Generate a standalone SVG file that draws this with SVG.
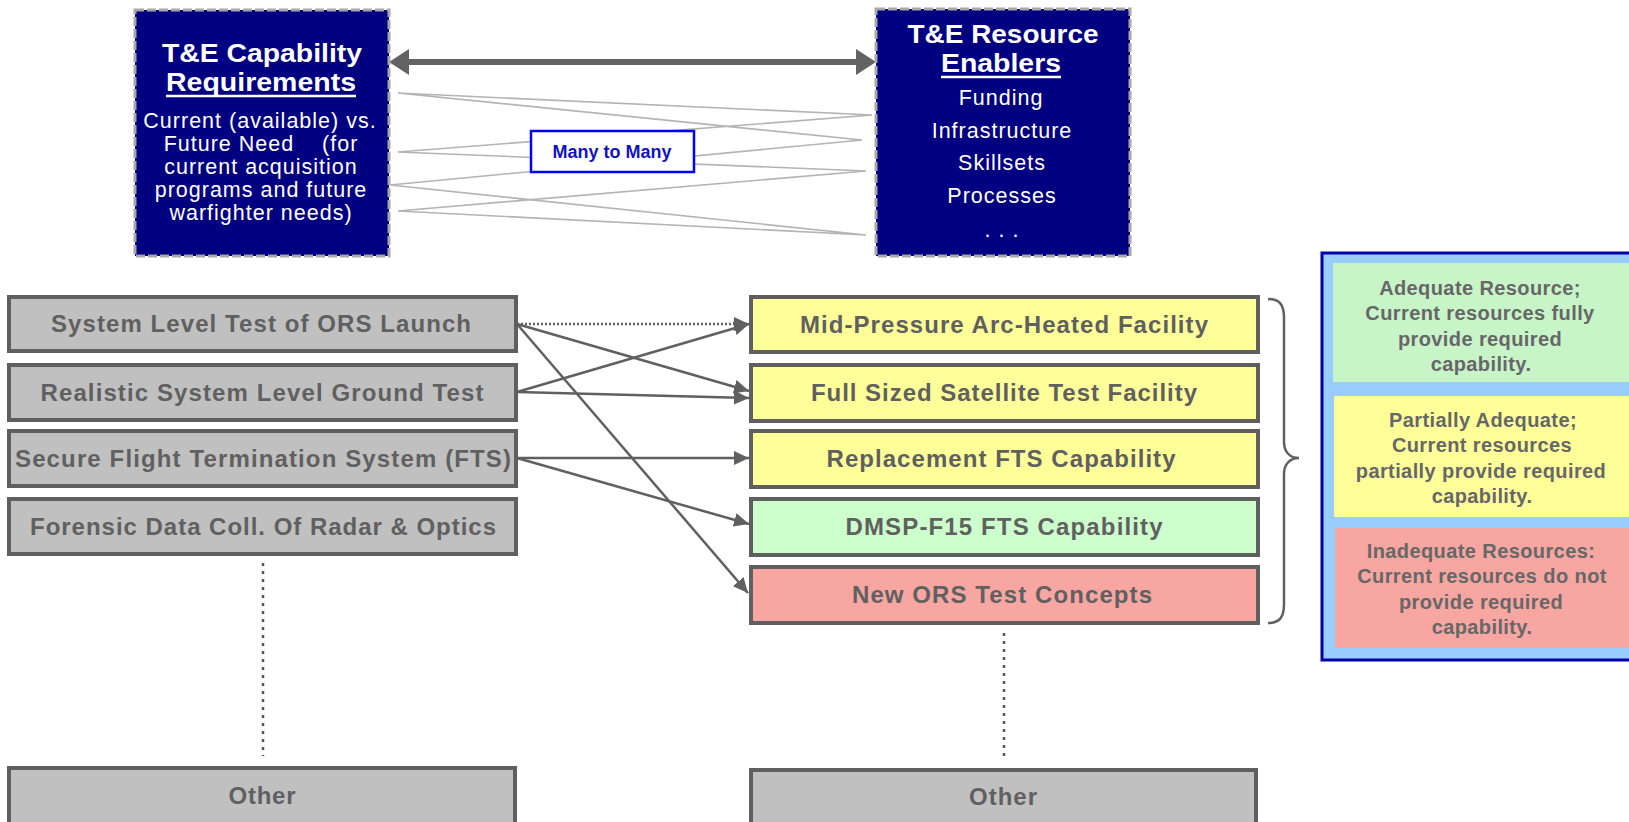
<svg xmlns="http://www.w3.org/2000/svg" width="1629" height="822" viewBox="0 0 1629 822">
<defs>
<style>
text{font-family:"Liberation Sans",Arial,sans-serif}
.title{font-size:25px;font-weight:bold;fill:#fff;text-anchor:middle}
.body{font-size:21.5px;fill:#fff;text-anchor:middle;letter-spacing:1px}
.navy{fill:#000080;stroke:#a8a8a8;stroke-width:3;stroke-dasharray:9 3}
.gbox{fill:#c0c0c0;stroke:#5f5f5f;stroke-width:4}
.ybox{fill:#ffff99;stroke:#5f5f5f;stroke-width:4}
.grbox{fill:#ccffcc;stroke:#5f5f5f;stroke-width:4}
.rbox{fill:#f7a6a1;stroke:#5f5f5f;stroke-width:4}
.lbl{font-size:24px;font-weight:bold;fill:#606060;text-anchor:middle}
.leg{font-size:20px;font-weight:bold;fill:#676767;text-anchor:middle;letter-spacing:0.4px}
.thin{stroke:#b4b4b4;stroke-width:1.6;fill:none}
.arr{stroke:#606060;stroke-width:2.5;fill:none;marker-end:url(#ah)}
.vdot{stroke:#555;stroke-width:2.5;stroke-dasharray:3 5;fill:none}
</style>
<marker id="ah" markerUnits="userSpaceOnUse" markerWidth="16" markerHeight="14" refX="15" refY="7" orient="auto">
<path d="M0,0 L15,7 L0,14 Z" fill="#606060"/>
</marker>
</defs>
<rect width="1629" height="822" fill="#fff"/>

<g id="connectors">
<line x1="407" y1="62" x2="858" y2="62" stroke="#636363" stroke-width="6"/>
<polygon points="389,62 409,49 409,75" fill="#636363"/>
<polygon points="876,62 856,49 856,75" fill="#636363"/>
<path class="thin" d="M398,93 L872,115 M398,93 L862,140 M398,152 L872,115 M398,152 L866,171 M390,185 L862,140 M390,185 L866,235 M398,211 L866,171 M398,211 L866,235"/>
<line class="arr" x1="517" y1="324" x2="749" y2="324" stroke-dasharray="2 2"/>
<line class="arr" x1="517" y1="324" x2="749" y2="391"/>
<line class="arr" x1="517" y1="324" x2="748" y2="593"/>
<line class="arr" x1="517" y1="392" x2="749" y2="324"/>
<line class="arr" x1="517" y1="392" x2="749" y2="398"/>
<line class="arr" x1="517" y1="458" x2="749" y2="458"/>
<line class="arr" x1="517" y1="458" x2="749" y2="524"/>
<line class="vdot" x1="263" y1="563" x2="263" y2="756"/>
<line class="vdot" x1="1004" y1="633" x2="1004" y2="757"/>
<path d="M1268,299 C1280,299 1284,305 1284,318 L1284,442 C1284,452 1290,458 1299,458 C1290,458 1284,464 1284,474 L1284,604 C1284,617 1280,623 1268,623" fill="none" stroke="#606060" stroke-width="2.5"/>
</g>

<g id="many-to-many">
<rect x="531" y="131" width="163" height="41" fill="#fff" stroke="#0000ff" stroke-width="2.5"/>
<text x="612" y="158" font-size="18" font-weight="bold" fill="#1212c0" text-anchor="middle">Many to Many</text>
</g>

<g id="capability-requirements">
<rect class="navy" x="135" y="10" width="254" height="246"/>
<text class="title" x="262" y="62" textLength="200" lengthAdjust="spacingAndGlyphs">T&amp;E Capability</text>
<text class="title" x="261" y="91" textLength="190" lengthAdjust="spacingAndGlyphs">Requirements</text>
<line x1="166" y1="96" x2="356" y2="96" stroke="#fff" stroke-width="2.5"/>
<text class="body" x="260" y="128">Current (available) vs.</text>
<text class="body" x="261" y="151" xml:space="preserve">Future Need    (for</text>
<text class="body" x="261" y="174">current acquisition</text>
<text class="body" x="261" y="197">programs and future</text>
<text class="body" x="261" y="220">warfighter needs)</text>
</g>

<g id="resource-enablers">
<rect class="navy" x="876" y="9" width="254" height="247"/>
<text class="title" x="1003" y="43" textLength="191" lengthAdjust="spacingAndGlyphs">T&amp;E Resource</text>
<text class="title" x="1001" y="72" textLength="120" lengthAdjust="spacingAndGlyphs">Enablers</text>
<line x1="941" y1="77" x2="1061" y2="77" stroke="#fff" stroke-width="2.5"/>
<text class="body" x="1001" y="105">Funding</text>
<text class="body" x="1002" y="138">Infrastructure</text>
<text class="body" x="1002" y="170">Skillsets</text>
<text class="body" x="1002" y="203">Processes</text>
<text class="body" x="1002" y="237" font-size="16">. . .</text>
</g>

<g id="req-1">
<rect class="gbox" x="9" y="297" width="507" height="54"/>
<text class="lbl" x="261" y="332" textLength="420" lengthAdjust="spacing">System Level Test of ORS Launch</text>
</g>
<g id="req-2">
<rect class="gbox" x="9" y="365" width="507" height="55"/>
<text class="lbl" x="262" y="401" textLength="443" lengthAdjust="spacing">Realistic System Level Ground Test</text>
</g>
<g id="req-3">
<rect class="gbox" x="9" y="431" width="507" height="55"/>
<text class="lbl" x="263" y="467" textLength="496" lengthAdjust="spacing">Secure Flight Termination System (FTS)</text>
</g>
<g id="req-4">
<rect class="gbox" x="9" y="499" width="507" height="55"/>
<text class="lbl" x="263" y="535" textLength="466" lengthAdjust="spacing">Forensic Data Coll. Of Radar &amp; Optics</text>
</g>
<g id="req-other">
<rect class="gbox" x="9" y="768" width="506" height="60"/>
<text class="lbl" x="262" y="804" textLength="67" lengthAdjust="spacing">Other</text>
</g>

<g id="res-1">
<rect class="ybox" x="751" y="297" width="507" height="55"/>
<text class="lbl" x="1004" y="333" textLength="408" lengthAdjust="spacing">Mid-Pressure Arc-Heated Facility</text>
</g>
<g id="res-2">
<rect class="ybox" x="751" y="365" width="507" height="56"/>
<text class="lbl" x="1004" y="401" textLength="386" lengthAdjust="spacing">Full Sized Satellite Test Facility</text>
</g>
<g id="res-3">
<rect class="ybox" x="751" y="431" width="507" height="56"/>
<text class="lbl" x="1001" y="467" textLength="349" lengthAdjust="spacing">Replacement FTS Capability</text>
</g>
<g id="res-4">
<rect class="grbox" x="751" y="499" width="507" height="56"/>
<text class="lbl" x="1004" y="535" textLength="317" lengthAdjust="spacing">DMSP-F15 FTS Capability</text>
</g>
<g id="res-5">
<rect class="rbox" x="751" y="567" width="507" height="56"/>
<text class="lbl" x="1002" y="603" textLength="300" lengthAdjust="spacing">New ORS Test Concepts</text>
</g>
<g id="res-other">
<rect class="gbox" x="751" y="770" width="505" height="60"/>
<text class="lbl" x="1003" y="805" textLength="68" lengthAdjust="spacing">Other</text>
</g>

<g id="legend">
<rect x="1322" y="253" width="330" height="407" fill="#99ccff" stroke="#0000a8" stroke-width="3"/>
<rect x="1333" y="263" width="300" height="119" fill="#c8f5c8"/>
<rect x="1334" y="396" width="300" height="121" fill="#ffff99"/>
<rect x="1335" y="528" width="300" height="120" fill="#f7a6a1"/>
<text class="leg" x="1480" y="295">Adequate Resource;</text>
<text class="leg" x="1480" y="320">Current resources fully</text>
<text class="leg" x="1480" y="346">provide required</text>
<text class="leg" x="1481" y="371">capability.</text>
<text class="leg" x="1483" y="427">Partially Adequate;</text>
<text class="leg" x="1482" y="452">Current resources</text>
<text class="leg" x="1481" y="478">partially provide required</text>
<text class="leg" x="1482" y="503">capability.</text>
<text class="leg" x="1481" y="558">Inadequate Resources:</text>
<text class="leg" x="1482" y="583">Current resources do not</text>
<text class="leg" x="1481" y="609">provide required</text>
<text class="leg" x="1482" y="634">capability.</text>
</g>
</svg>
